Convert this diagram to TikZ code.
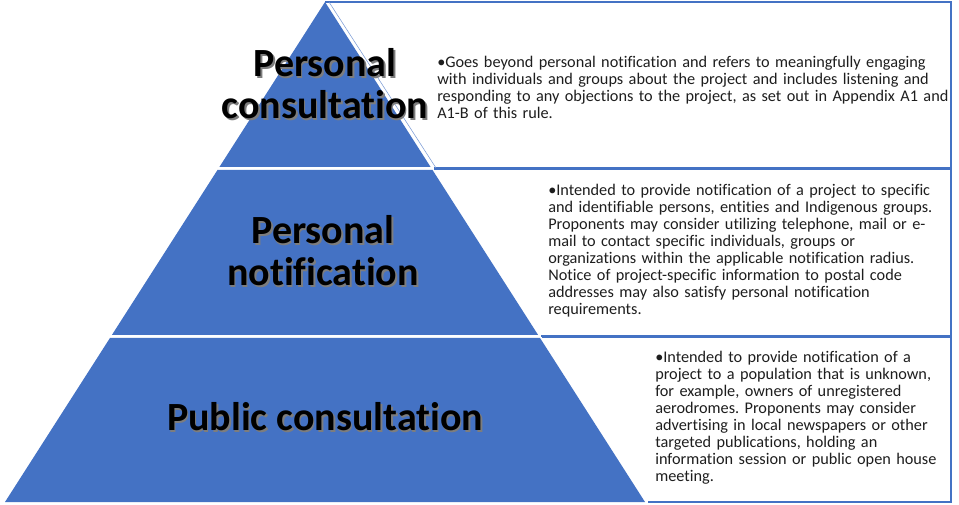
\documentclass[tikz,border=0pt]{standalone}
\usepackage{fontspec}
\setmainfont[Ligatures=NoCommon]{Carlito}
\usetikzlibrary{positioning}
\definecolor{tierblue}{RGB}{68, 114, 196}
\definecolor{shadowgrey}{RGB}{125, 125, 125}
\definecolor{bodyink}{RGB}{30, 30, 30}
\tikzset{
    tierlbl/.style={font=\fontsize{30}{31.5}\selectfont\bfseries, align=center, inner sep=0pt},
    bodytxt/.style={font=\fontsize{12.2}{12.75}\selectfont\frenchspacing, text=bodyink, align=left, anchor=north west, inner sep=0pt},
    boxline/.style={draw=tierblue, line width=1.5pt}
}
\newcommand{\bulletline}{\hangindent=6pt\hangafter=1\noindent\makebox[6pt][l]{\textbullet}}

\begin{document}
\begin{tikzpicture}[x=0.75pt, y=-0.75pt]
        \useasboundingbox (0,0) rectangle (959,505);
        \fill[white] (0,0) rectangle (959,505);
        \draw[boxline] (325,2) -- (951,2) -- (951,168) -- (434,168);
        \draw[tierblue!70, line width=0.4pt] (329,2) -- (436,168);
        \draw[boxline] (434,169) -- (951,169) -- (951,336) -- (541,336);
        \draw[boxline] (542,337) -- (951,337) -- (951,502) -- (648,502);
        \foreach \ya/\yb in {2/167, 170/335, 338/502}
        {
            \fill[tierblue] ({325-(\ya-2)*0.64},\ya) -- ({325+(\ya-2)*0.64},\ya) -- ({325+(\yb-2)*0.64},\yb) -- ({325-(\yb-2)*0.64},\yb) -- cycle;
        }
        \foreach \x/\y/\nm/\lbl in {
            325/84/pcons/{Personal\\consultation},
            323/251/pnoti/{Personal\\notification},
            325/417/pubcons/{Public consultation}}
        {
            \node[tierlbl, text=shadowgrey] (\nm-shadow) at (\x+1.6,\y+1.6) {\lbl};
            \node[tierlbl] (\nm) at (\x,\y) {\lbl};
        }
        \node[bodytxt, text width=385pt] (toptxt) at (437,56) {\bulletline Goes beyond personal notification and refers to meaningfully engaging\newline
            with individuals and groups about the project and includes listening and\newline
            responding to any objections to the project, as set out in Appendix A1 and\newline
            A1-B of this rule.};
        \node[bodytxt, text width=300pt] (midtxt) at (548,184) {\bulletline Intended to provide notification of a project to specific\newline
            and identifiable persons, entities and Indigenous groups.\newline
            Proponents may consider utilizing telephone, mail or e-\newline
            mail to contact specific individuals, groups or\newline
            organizations within the applicable notification radius.\newline
            Notice of project-specific information to postal code\newline
            addresses may also satisfy personal notification\newline
            requirements.};
        \node[bodytxt, text width=220pt] (bottxt) at (655,351) {\bulletline Intended to provide notification of a\newline
            project to a population that is unknown,\newline
            for example, owners of unregistered\newline
            aerodromes. Proponents may consider\newline
            advertising in local newspapers or other\newline
            targeted publications, holding an\newline
            information session or public open house\newline
            meeting.};
    \end{tikzpicture}
\end{document}
